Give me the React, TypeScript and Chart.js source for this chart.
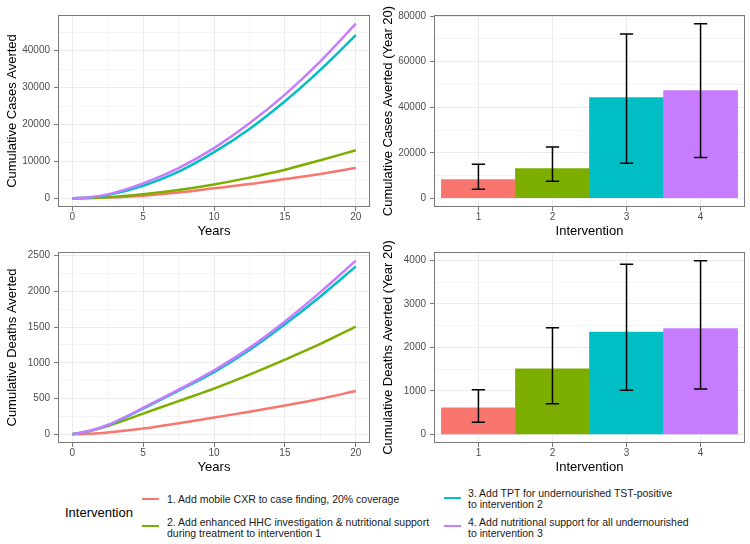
import React, { useEffect, useRef } from "react";
import { Chart, registerables } from "chart.js";

Chart.register(...registerables);

const FONT = "'Liberation Sans', Arial, Helvetica, sans-serif";
const PALETTE = ["#F8766D", "#7CAE00", "#00BFC4", "#C77CFF"];
const GRID_MAJOR = "#EBEBEB";
const GRID_MINOR = "#F4F4F4";
const AXIS_GREY = "#7A7A7A";
const TICK_TEXT = "#4D4D4D";

const INTERVENTION_LABELS = [
  "1. Add mobile CXR to case finding, 20% coverage",
  "2. Add enhanced HHC investigation & nutritional support\nduring treatment to intervention 1",
  "3. Add TPT for undernourished TST-positive\nto intervention 2",
  "4. Add nutritional support for all undernourished\nto intervention 3",
];

// Cumulative trajectories over the 20-year horizon
const YEARS = [0, 1.25, 2.5, 5, 7.5, 10, 12.5, 15, 17.5, 20];
const CASES_INT1 = [0, 45, 180, 700, 1550, 2700, 3850, 5200, 6600, 8200];
const CASES_INT2 = [0, 70, 270, 1100, 2250, 3750, 5600, 7750, 10300, 13000];
const CASES_INT3 = [0, 220, 850, 3400, 7200, 12500, 18800, 26300, 34800, 44200];
const CASES_INT4 = [0, 270, 1050, 4050, 8200, 13600, 20300, 28100, 37100, 47300];
const DEATHS_INT1 = [0, 8, 25, 80, 155, 235, 315, 402, 497, 607];
const DEATHS_INT2 = [0, 46, 115, 290, 465, 640, 835, 1045, 1265, 1507];
const DEATHS_INT3 = [0, 48, 125, 360, 612, 870, 1180, 1540, 1930, 2350];
const DEATHS_INT4 = [0, 50, 130, 370, 625, 895, 1210, 1580, 1990, 2430];

// Year-20 totals with uncertainty intervals
const INTERVENTIONS = [1, 2, 3, 4];
const CASES_Y20 = [8200, 13000, 44200, 47300];
const CASES_Y20_LO = [4000, 7500, 15400, 17900];
const CASES_Y20_HI = [15000, 22500, 72200, 76700];
const DEATHS_Y20 = [607, 1507, 2350, 2430];
const DEATHS_Y20_LO = [280, 700, 1010, 1040];
const DEATHS_Y20_HI = [1025, 2450, 3910, 3990];

// Axis breaks
const YEAR_MAJOR = [0, 5, 10, 15, 20];
const YEAR_MINOR = [2.5, 7.5, 12.5, 17.5];
const CASES_MAJOR = [0, 10000, 20000, 30000, 40000];
const CASES_MINOR = [5000, 15000, 25000, 35000, 45000];
const DEATHS_MAJOR = [0, 500, 1000, 1500, 2000, 2500];
const DEATHS_MINOR = [250, 750, 1250, 1750, 2250];
const CASES_Y20_MAJOR = [0, 20000, 40000, 60000, 80000];
const CASES_Y20_MINOR = [10000, 30000, 50000, 70000];
const DEATHS_Y20_MAJOR = [0, 1000, 2000, 3000, 4000];
const DEATHS_Y20_MINOR = [500, 1500, 2500, 3500];

const ERRORBAR_WIDTH = 0.18;

function expand(values: number[]): [number, number] {
  const lo = Math.min(...values);
  const hi = Math.max(...values);
  const d = (hi - lo) * 0.05;
  return [lo - d, hi + d];
}

type AxisSpec = {
  title: string;
  major: number[];
  minor: number[];
  range: [number, number];
  thickness: number;
  titlePadding: { top: number; bottom: number };
  tickPadding: number;
};

function axis(spec: AxisSpec, horizontal: boolean) {
  const majorSet = new Set(spec.major);
  const all = [...spec.major, ...spec.minor].sort((a, b) => a - b);
  const isMajor = (c: any) => c && c.tick && majorSet.has(c.tick.value);
  return {
    type: "linear",
    min: spec.range[0],
    max: spec.range[1],
    offset: false,
    afterBuildTicks: (s: any) => {
      s.ticks = all.map((value) => ({ value }));
    },
    afterFit: (s: any) => {
      if (horizontal) s.height = spec.thickness;
      else s.width = spec.thickness;
    },
    border: { display: false },
    grid: {
      offset: false,
      color: (c: any) => (isMajor(c) ? GRID_MAJOR : GRID_MINOR),
      lineWidth: 1,
      drawTicks: true,
      tickLength: 4,
      tickWidth: 1,
      tickColor: (c: any) => (isMajor(c) ? AXIS_GREY : "rgba(0,0,0,0)"),
    },
    ticks: {
      autoSkip: false,
      maxRotation: 0,
      padding: spec.tickPadding,
      color: TICK_TEXT,
      font: { family: FONT, size: 10 },
      callback: (v: number) => (majorSet.has(v) ? String(v) : ""),
    },
    title: {
      display: true,
      text: spec.title,
      color: "#000",
      font: { family: FONT, size: 13 },
      padding: spec.titlePadding,
    },
  };
}

const panelBorder = {
  id: "panelBorder",
  afterDraw(chart: any) {
    const { ctx, chartArea: a } = chart;
    const x0 = Math.round(a.left) + 0.5;
    const x1 = Math.round(a.right) - 0.5;
    const y0 = Math.round(a.top) + 0.5;
    const y1 = Math.round(a.bottom) - 0.5;
    ctx.save();
    ctx.strokeStyle = AXIS_GREY;
    ctx.lineWidth = 1;
    ctx.strokeRect(x0, y0, x1 - x0, y1 - y0);
    ctx.restore();
  },
};

function errorBarPlugin(lo: number[], hi: number[]) {
  return {
    id: "errorBars",
    afterDatasetsDraw(chart: any) {
      const { ctx, scales } = chart;
      const x = scales.x;
      const y = scales.y;
      ctx.save();
      ctx.strokeStyle = "#000";
      ctx.lineWidth = 1.5;
      INTERVENTIONS.forEach((c, i) => {
        const cx = x.getPixelForValue(c);
        const half = Math.abs(x.getPixelForValue(c + ERRORBAR_WIDTH / 2) - cx);
        const yTop = y.getPixelForValue(hi[i]);
        const yBot = y.getPixelForValue(lo[i]);
        ctx.beginPath();
        ctx.moveTo(cx, yTop);
        ctx.lineTo(cx, yBot);
        ctx.moveTo(cx - half, yTop);
        ctx.lineTo(cx + half, yTop);
        ctx.moveTo(cx - half, yBot);
        ctx.lineTo(cx + half, yBot);
        ctx.stroke();
      });
      ctx.restore();
    },
  };
}

const baseOptions = (padTop: number, x: any, y: any) => ({
  responsive: false,
  animation: false,
  events: [],
  layout: { padding: { top: padTop, right: 5, left: 0, bottom: 0 } },
  plugins: { legend: { display: false }, tooltip: { enabled: false } },
  scales: { x, y },
});

function lineConfig(series: number[][], yTitle: string, major: number[], minor: number[], padTop: number) {
  const ySpec: AxisSpec = {
    title: yTitle,
    major,
    minor,
    range: expand(series.flat()),
    thickness: 58,
    titlePadding: { top: 4.7, bottom: 0 },
    tickPadding: 4,
  };
  const xSpec: AxisSpec = {
    title: "Years",
    major: YEAR_MAJOR,
    minor: YEAR_MINOR,
    range: expand(YEARS),
    thickness: 38,
    titlePadding: { top: 0, bottom: 6 },
    tickPadding: 0,
  };
  return {
    type: "line",
    data: {
      datasets: series.map((vals, i) => ({
        label: INTERVENTION_LABELS[i],
        data: YEARS.map((yr, j) => ({ x: yr, y: vals[j] })),
        borderColor: PALETTE[i],
        borderWidth: 2.5,
        pointRadius: 0,
        cubicInterpolationMode: "monotone",
        fill: false,
        order: series.length - 1 - i,
      })),
    },
    options: baseOptions(padTop, axis(xSpec, true), axis(ySpec, false)),
    plugins: [panelBorder],
  };
}

function barConfig(
  values: number[],
  lo: number[],
  hi: number[],
  yTitle: string,
  major: number[],
  minor: number[],
  padTop: number
) {
  const ySpec: AxisSpec = {
    title: yTitle,
    major,
    minor,
    range: expand([0, ...values, ...lo, ...hi]),
    thickness: 59,
    titlePadding: { top: 5.5, bottom: 0 },
    tickPadding: 4,
  };
  const xSpec: AxisSpec = {
    title: "Intervention",
    major: INTERVENTIONS,
    minor: [],
    range: [0.4, 4.6],
    thickness: 38,
    titlePadding: { top: 0, bottom: 6 },
    tickPadding: 0,
  };
  return {
    type: "bar",
    data: {
      datasets: [
        {
          label: yTitle,
          data: INTERVENTIONS.map((c, i) => ({ x: c, y: values[i] })),
          backgroundColor: PALETTE,
          borderWidth: 0,
          barPercentage: 1,
          categoryPercentage: 1,
        },
      ],
    },
    options: baseOptions(padTop, axis(xSpec, true), axis(ySpec, false)),
    plugins: [panelBorder, errorBarPlugin(lo, hi)],
  };
}

function ChartBox({ left, top, width, height, config }: any) {
  const ref = useRef<HTMLCanvasElement | null>(null);
  useEffect(() => {
    const chart = new Chart(ref.current as HTMLCanvasElement, config() as any);
    return () => chart.destroy();
  }, []);
  return (
    <canvas
      ref={ref}
      width={width}
      height={height}
      style={{ position: "absolute", left, top, width, height, display: "block" }}
    />
  );
}

const legendText: React.CSSProperties = {
  position: "absolute",
  fontFamily: FONT,
  fontSize: 10.5,
  lineHeight: "11px",
  color: "#1A1A1A",
  whiteSpace: "pre",
};

function LegendKey({ left, top, color }: { left: number; top: number; color: string }) {
  return (
    <div
      style={{ position: "absolute", left, top: top - 1.25, width: 16.5, height: 2.5, background: color }}
    />
  );
}

export default function App() {
  return (
    <div
      style={{
        position: "absolute",
        left: 0,
        top: 0,
        width: 750,
        height: 544,
        background: "#fff",
        overflow: "hidden",
      }}
    >
      <ChartBox
        left={0}
        top={0}
        width={375}
        height={245}
        config={() =>
          lineConfig(
            [CASES_INT1, CASES_INT2, CASES_INT3, CASES_INT4],
            "Cumulative Cases Averted",
            CASES_MAJOR,
            CASES_MINOR,
            15
          )
        }
      />
      <ChartBox
        left={375}
        top={0}
        width={375}
        height={245}
        config={() =>
          barConfig(
            CASES_Y20,
            CASES_Y20_LO,
            CASES_Y20_HI,
            "Cumulative Cases Averted (Year 20)",
            CASES_Y20_MAJOR,
            CASES_Y20_MINOR,
            15
          )
        }
      />
      <ChartBox
        left={0}
        top={228}
        width={375}
        height={253}
        config={() =>
          lineConfig(
            [DEATHS_INT1, DEATHS_INT2, DEATHS_INT3, DEATHS_INT4],
            "Cumulative Deaths Averted",
            DEATHS_MAJOR,
            DEATHS_MINOR,
            24
          )
        }
      />
      <ChartBox
        left={375}
        top={228}
        width={375}
        height={253}
        config={() =>
          barConfig(
            DEATHS_Y20,
            DEATHS_Y20_LO,
            DEATHS_Y20_HI,
            "Cumulative Deaths Averted (Year 20)",
            DEATHS_Y20_MAJOR,
            DEATHS_Y20_MINOR,
            24
          )
        }
      />

      <div
        style={{
          position: "absolute",
          left: 65,
          top: 505,
          fontFamily: FONT,
          fontSize: 13,
          lineHeight: "16px",
          color: "#000",
          whiteSpace: "pre",
        }}
      >
        Intervention
      </div>

      <LegendKey left={142} top={499} color={PALETTE[0]} />
      <div style={{ ...legendText, left: 167, top: 493.5 }}>{INTERVENTION_LABELS[0]}</div>

      <LegendKey left={142} top={526} color={PALETTE[1]} />
      <div style={{ ...legendText, left: 167, top: 516.5 }}>{INTERVENTION_LABELS[1]}</div>

      <LegendKey left={444} top={498} color={PALETTE[2]} />
      <div style={{ ...legendText, left: 468, top: 487.5, lineHeight: "11.5px" }}>
        {INTERVENTION_LABELS[2]}
      </div>

      <LegendKey left={444} top={526} color={PALETTE[3]} />
      <div style={{ ...legendText, left: 468, top: 516.5 }}>{INTERVENTION_LABELS[3]}</div>
    </div>
  );
}
